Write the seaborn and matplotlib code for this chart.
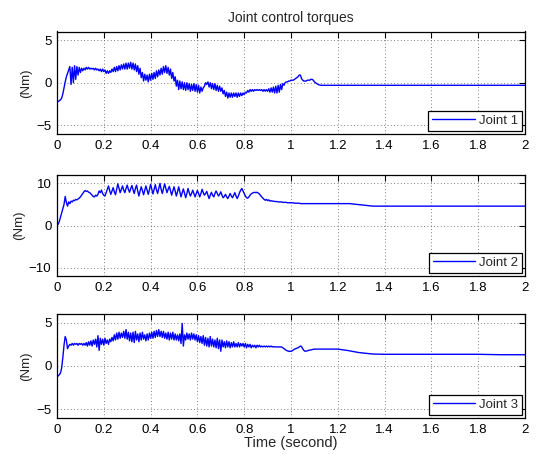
import numpy as np
import pandas as pd
import matplotlib
matplotlib.use("Agg")
import matplotlib.pyplot as plt
import seaborn as sns
from matplotlib.ticker import FuncFormatter

# Sample period of the logged torque signals (first 1.1 s at full rate)
dt = 0.005

# Joint 1 torque (Nm), one row per 0.1 s
joint1_fast = [
    -2.2, -2.2, -2.1, -2.0, -1.8, -1.3, -0.6, 0.1, 0.7, 1.1, 1.5, 1.9, -0.2, 1.8, 0.0, 2.0, 0.4, 1.9, 0.9, 1.8,
    1.2, 1.7, 1.4, 1.7, 1.5, 1.8, 1.6, 1.8, 1.6, 1.7, 1.6, 1.7, 1.5, 1.7, 1.5, 1.6, 1.4, 1.6, 1.3, 1.6,
    1.3, 1.5, 1.1, 1.4, 1.1, 1.4, 1.2, 1.6, 1.3, 1.8, 1.3, 1.9, 1.4, 2.0, 1.5, 2.1, 1.6, 2.2, 1.6, 2.3,
    1.6, 2.3, 1.7, 2.4, 1.6, 2.3, 1.5, 2.2, 1.3, 2.0, 1.0, 1.7, 0.6, 1.2, 0.2, 1.0, 0.3, 0.9, 0.1, 1.0,
    0.3, 1.1, 0.4, 1.2, 0.5, 1.4, 0.7, 1.5, 0.9, 1.7, 1.0, 1.9, 1.2, 2.0, 1.1, 1.8, 0.9, 1.6, 0.5, 1.2,
    0.2, 0.7, -0.4, 0.3, -0.8, 0.2, -0.7, 0.1, -0.8, 0.0, -0.9, 0.0, -0.8, -0.1, -1.0, -0.2, -0.9, -0.1, -1.0, -0.2,
    -1.1, -0.3, -1.2, -0.5, -1.0, -0.6, -0.4, 0.0, -0.2, 0.1, -0.5, 0.0, -0.7, -0.1, -0.8, -0.1, -0.9, -0.3, -1.0, -0.4,
    -1.0, -0.6, -1.3, -0.9, -1.6, -1.1, -1.8, -1.2, -1.7, -1.2, -1.7, -1.2, -1.6, -1.2, -1.7, -1.2, -1.6, -1.2, -1.5, -1.2,
    -1.4, -1.1, -1.2, -0.9, -1.1, -0.8, -1.0, -0.8, -1.0, -0.8, -0.9, -0.8, -0.9, -0.8, -0.9, -0.8, -1.0, -0.8, -1.0, -0.8,
    -1.0, -0.7, -1.1, -0.6, -1.1, -0.5, -1.2, -0.4, -1.2, -0.3, -1.1, -0.2, -0.8, -0.1, -0.3, 0.0, 0.1, 0.1, 0.2, 0.2,
    0.3, 0.3, 0.3, 0.4, 0.5, 0.6, 0.7, 0.9, 0.9, 0.5, 0.3, 0.2, 0.2, 0.2, 0.3, 0.3, 0.3, 0.4, 0.4, 0.3,
    0.1,
]
joint1_tail_t = [1.11, 1.12, 1.13, 2.0]
joint1_tail = [-0.1, -0.25, -0.3, -0.3]

# Joint 2 torque (Nm)
joint2_fast = [
    0.0, 0.3, 1.0, 2.0, 3.0, 4.0, 5.0, 6.9, 5.5, 4.6, 5.6, 5.2, 5.8, 5.6, 6.0, 5.9, 6.2, 6.1, 6.3, 6.5,
    6.8, 7.2, 7.6, 8.0, 8.3, 8.1, 8.2, 7.9, 7.8, 7.5, 7.2, 6.9, 6.8, 7.2, 7.0, 7.4, 8.2, 7.8, 8.4, 7.6,
    7.2, 7.0, 7.8, 8.6, 9.4, 8.3, 7.4, 8.2, 9.0, 8.0, 7.3, 8.6, 9.9, 8.8, 7.8, 8.6, 9.4, 8.4, 7.8, 8.8,
    9.6, 8.6, 7.9, 8.8, 9.5, 8.5, 7.6, 8.8, 9.6, 8.2, 7.0, 8.2, 9.2, 8.3, 7.3, 8.4, 9.4, 8.4, 7.4, 8.5,
    9.8, 8.6, 7.5, 8.6, 9.7, 8.5, 7.6, 8.8, 10.0, 8.6, 7.6, 8.8, 9.9, 8.8, 7.8, 8.6, 9.3, 8.2, 7.2, 8.2,
    9.2, 8.2, 7.0, 8.0, 9.2, 8.0, 6.8, 7.8, 8.7, 7.6, 6.6, 7.6, 8.8, 7.8, 7.0, 7.6, 8.4, 7.6, 6.8, 7.6,
    8.3, 7.6, 6.8, 7.6, 8.6, 7.8, 7.2, 7.6, 8.1, 7.2, 6.4, 7.2, 7.9, 7.2, 6.8, 7.6, 8.2, 7.6, 7.0, 7.4,
    8.0, 7.2, 6.6, 6.9, 7.4, 6.8, 6.4, 7.0, 7.6, 7.0, 6.6, 7.2, 7.8, 7.0, 6.4, 7.0, 7.8, 8.4, 8.8, 8.2,
    7.6, 7.0, 6.6, 6.5, 6.8, 7.2, 7.5, 7.7, 7.8, 7.9, 7.8, 7.9, 7.7, 7.5, 7.1, 6.8, 6.5, 6.2, 6.0, 6.2,
    5.9, 6.1, 5.8, 5.9, 5.8, 5.8, 5.7, 5.7, 5.7, 5.6, 5.6, 5.6, 5.6, 5.5, 5.5, 5.5, 5.5, 5.4, 5.4, 5.4,
    5.4, 5.4, 5.4, 5.3, 5.3, 5.3, 5.3, 5.3, 5.2, 5.2, 5.2, 5.2, 5.2, 5.2, 5.2, 5.2, 5.2, 5.2, 5.2, 5.2,
    5.2,
]
joint2_tail_t = [1.25, 1.3, 1.35, 2.0]
joint2_tail = [5.2, 4.9, 4.6, 4.6]

# Joint 3 torque (Nm)
joint3_fast = [
    -1.2, -1.15, -1.0, -0.8, -0.2, 1.0, 2.4, 3.4, 3.0, 2.0, 2.3, 2.5, 2.4, 2.6, 2.4, 2.6, 2.5, 2.6, 2.4, 2.6,
    2.5, 2.6, 2.4, 2.6, 2.4, 2.7, 2.3, 2.8, 2.4, 2.9, 2.3, 3.0, 2.5, 3.1, 2.2, 3.5, 1.8, 3.2, 2.5, 3.1,
    2.4, 3.2, 2.6, 3.0, 2.5, 3.1, 2.8, 3.3, 2.9, 3.6, 3.0, 3.8, 3.1, 3.9, 3.2, 3.8, 3.3, 4.0, 3.2, 4.2,
    3.1, 3.9, 2.9, 3.8, 2.8, 3.9, 2.7, 4.0, 3.0, 3.7, 2.8, 3.8, 3.0, 3.9, 3.1, 3.6, 2.9, 3.7, 3.0, 3.8,
    3.2, 3.9, 3.2, 4.0, 3.3, 4.1, 3.4, 4.2, 3.4, 4.0, 3.3, 4.0, 3.2, 3.8, 3.1, 3.9, 3.0, 3.8, 3.1, 3.9,
    3.0, 3.7, 3.0, 3.6, 2.9, 3.7, 2.6, 4.9, 2.3, 3.6, 3.0, 3.8, 3.1, 3.7, 3.0, 3.8, 3.1, 3.7, 3.0, 3.6,
    2.8, 3.5, 2.7, 3.4, 2.6, 3.5, 2.4, 3.3, 2.3, 3.2, 2.2, 3.4, 2.3, 3.1, 2.2, 3.0, 2.1, 3.2, 2.0, 3.0,
    1.7, 3.0, 2.2, 2.8, 2.1, 2.9, 2.2, 2.8, 2.1, 2.7, 2.2, 2.8, 2.2, 2.6, 2.2, 2.7, 2.2, 2.6, 2.3, 2.6,
    2.2, 2.6, 2.1, 2.5, 2.2, 2.5, 2.1, 2.4, 2.2, 2.4, 2.1, 2.4, 2.2, 2.4, 2.2, 2.3, 2.2, 2.3, 2.2, 2.3,
    2.2, 2.3, 2.2, 2.3, 2.2, 2.25, 2.2, 2.2, 2.2, 2.2, 2.2, 2.2, 2.2, 2.1, 2.0, 1.9, 1.8, 1.75, 1.7, 1.7,
    1.7, 1.75, 1.85, 1.95, 2.0, 2.05, 2.1, 2.2, 2.3, 2.25, 2.0, 1.8, 1.7, 1.72, 1.75, 1.8, 1.83, 1.86, 1.9, 1.92,
    1.95,
]
joint3_tail_t = [1.2, 1.24, 1.29, 1.35, 1.4, 1.8, 1.9, 2.0]
joint3_tail = [1.95, 1.8, 1.55, 1.38, 1.35, 1.35, 1.3, 1.3]

joint_names = ["Joint 1", "Joint 2", "Joint 3"]
y_limits = [(-6, 6), (-12, 12), (-6, 6)]
y_ticks = [[-5, 0, 5], [-10, 0, 10], [-5, 0, 5]]
x_ticks = [0, 0.2, 0.4, 0.6, 0.8, 1.0, 1.2, 1.4, 1.6, 1.8, 2.0]


def joint_frame(fast, tail_t, tail):
    t_fast = dt * np.arange(len(fast))
    return pd.DataFrame({
        "time": np.concatenate([t_fast, tail_t]),
        "torque": np.concatenate([fast, tail]),
    })


frames = [
    joint_frame(joint1_fast, joint1_tail_t, joint1_tail),
    joint_frame(joint2_fast, joint2_tail_t, joint2_tail),
    joint_frame(joint3_fast, joint3_tail_t, joint3_tail),
]

sns.set_style("white")
plt.rcParams["font.family"] = ["Liberation Sans", "DejaVu Sans"]
plt.rcParams["axes.unicode_minus"] = True

fig = plt.figure(figsize=(5.38, 4.54), dpi=100)
left, width = 57 / 538, (525 - 57) / 538
rows_px = [(31.5, 134), (175, 276), (314, 418)]


def num_fmt(v, _pos):
    s = ("%g" % round(v, 6))
    return s.replace("-", "\u2212")


for k, (df, (top, bot)) in enumerate(zip(frames, rows_px)):
    ax = fig.add_axes([left, 1 - bot / 454, width, (bot - top) / 454])
    sns.lineplot(data=df, x="time", y="torque", ax=ax, color="#0000ff",
                 linewidth=1.0, estimator=None, sort=False, label=joint_names[k])
    ax.set_xlim(0, 2)
    ax.set_ylim(*y_limits[k])
    ax.set_xticks(x_ticks)
    ax.set_yticks(y_ticks[k])
    ax.xaxis.set_major_formatter(FuncFormatter(num_fmt))
    ax.yaxis.set_major_formatter(FuncFormatter(num_fmt))
    ax.grid(True, color="#555555", linestyle=(0, (1, 3)), linewidth=0.6)
    ax.tick_params(direction="in", length=4, width=0.8, top=True, right=True,
                   labelsize=9.5, pad=4, colors="black")
    for sp in ax.spines.values():
        sp.set_color("black")
        sp.set_linewidth(0.9)
    ax.set_ylabel("(Nm)", fontsize=9.5, labelpad=3)
    ax.set_xlabel("")
    leg = ax.legend(loc="lower right", frameon=True, fancybox=False,
                    edgecolor="black", framealpha=1, fontsize=9.5,
                    handlelength=3.2, borderaxespad=0.25, borderpad=0.3,
                    handletextpad=0.3)
    leg.get_frame().set_linewidth(0.9)
    if k == 0:
        ax.set_title("Joint control torques", fontsize=10, pad=7)
    if k == 2:
        ax.set_xlabel("Time (second)", fontsize=10.5, labelpad=0)

fig.savefig("out.png", dpi=100)
